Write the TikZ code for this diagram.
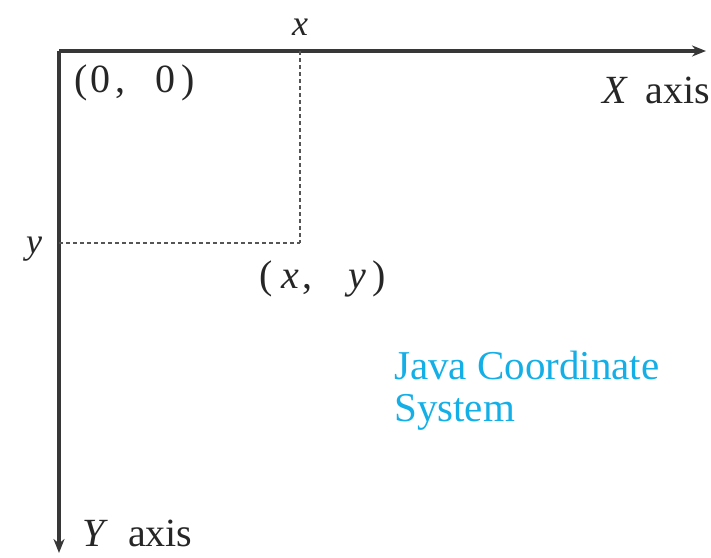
\documentclass[tikz,border=0pt]{standalone}
\usepackage{fontspec}
\setmainfont{Liberation Serif}
\usetikzlibrary{arrows.meta}
\definecolor{axisgray}{RGB}{55,55,55}
\definecolor{javacyan}{RGB}{20,175,230}
\tikzset{
  axisline/.style={draw=axisgray,line width=3.5pt,-{Stealth[length=14pt,width=11pt]}},
  guide/.style={draw=axisgray!85,line width=2.5pt,dash pattern=on 4pt off 3pt},
  lbl/.style={font=\fontsize{36}{40}\selectfont,inner sep=0pt,text=black!85},
  big/.style={font=\fontsize{40}{44}\selectfont,inner sep=0pt,text=black!85},
  note/.style={font=\fontsize{41}{42}\selectfont,inner sep=0pt,text=javacyan,align=left}
}
\begin{document}
\begin{tikzpicture}[x=1pt,y=-1pt]
\useasboundingbox (0,0) rectangle (711,557);
\coordinate (O) at (59,51);
\coordinate (Xend) at (706,51);
\coordinate (Yend) at (59,553);
\coordinate (P) at (300,243);
\coordinate (Px) at (300,51);
\coordinate (Py) at (59,243);
\draw[axisline] (O) -- (Xend);
\draw[axisline] (O) -- (Yend);
\draw[guide] (Px) -- (P);
\draw[guide] (Py) -- (P);
\node[lbl,anchor=base] (xl) at (300,35) {\textit{x}};
\node[big,anchor=base west] (orig) at (74,92) {(\hspace{3pt}0\hspace{5pt},\hspace{30pt}0\hspace{6pt})};
\node[big,anchor=base west] (xaxis) at (602,103) {\textit{X}\hspace{18pt}axis};
\node[lbl,anchor=base] (yl) at (34,253) {\textit{y}};
\node[big,anchor=base west] (pxy) at (259,288) {(\hspace{9pt}\textit{x}\hspace{3pt},\hspace{36pt}\textit{y}\hspace{6pt})};
\node[note,anchor=base west] (java) at (394,421) {Java Coordinate\\System};
\node[big,anchor=base west] (yaxis) at (82,546) {\textit{Y}\hspace{20pt}axis};
\end{tikzpicture}
\end{document}
